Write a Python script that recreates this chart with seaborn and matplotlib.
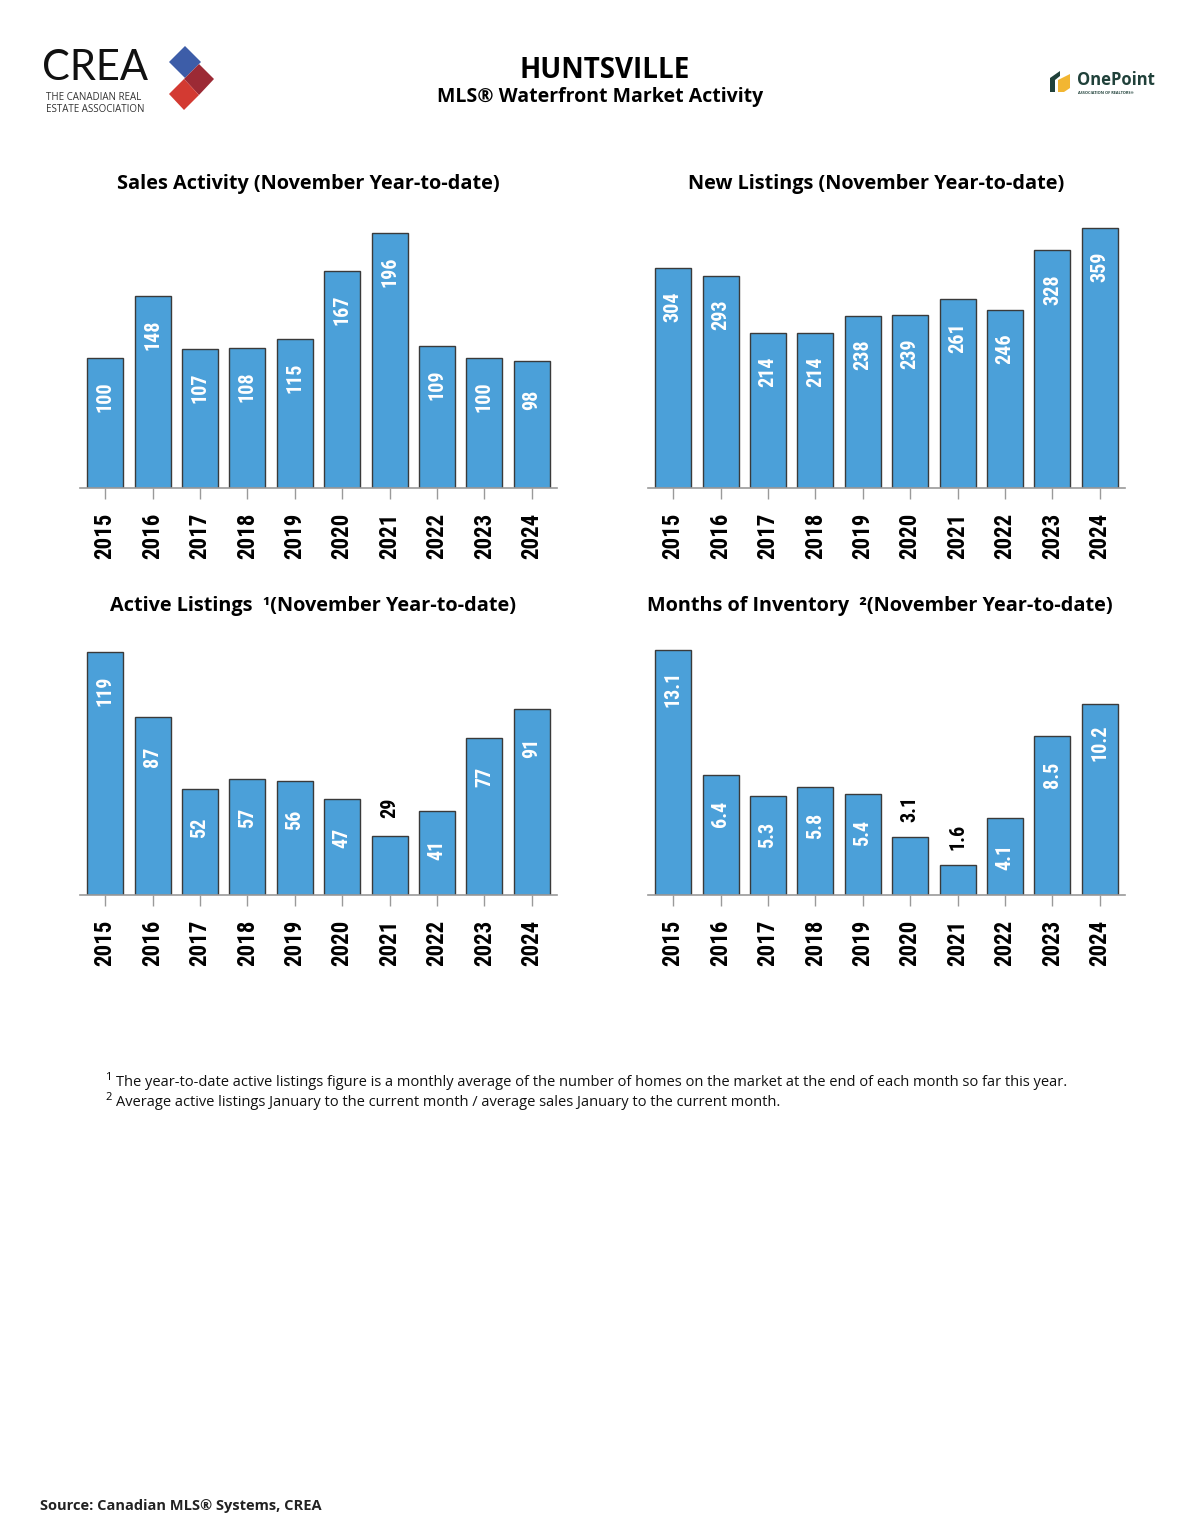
import numpy as np
import pandas as pd
import matplotlib
matplotlib.use('Agg')
import matplotlib.pyplot as plt
import seaborn as sns
from matplotlib.patches import Polygon

# ==========================================
# Data
# ==========================================
years = ['2015', '2016', '2017', '2018', '2019', '2020', '2021', '2022', '2023', '2024']
sales = [100, 148, 107, 108, 115, 167, 196, 109, 100, 98]
new_listings = [304, 293, 214, 214, 238, 239, 261, 246, 328, 359]
active_listings = [119, 87, 52, 57, 56, 47, 29, 41, 77, 91]
months_inventory = [13.1, 6.4, 5.3, 5.8, 5.4, 3.1, 1.6, 4.1, 8.5, 10.2]

titles = [
    'Sales Activity (November Year-to-date)',
    'New Listings (November Year-to-date)',
    'Active Listings  \u00b9(November Year-to-date)',
    'Months of Inventory  \u00b2(November Year-to-date)',
]

BAR = '#4ba0d9'
EDGE = '#3a3a3a'
NARROW = ['Roboto Condensed', 'Roboto', 'DejaVu Sans']

sns.set_theme(style='white')
plt.rcParams['font.family'] = ['Open Sans', 'DejaVu Sans']
plt.rcParams['text.color'] = 'black'

W, H = 1195, 1536
fig = plt.figure(figsize=(W / 100, H / 100), dpi=100)


def fx(x):
    return x / W


def fy(y):
    return 1 - y / H


# panel layout: values, title, number format, ymax, left px, baseline px, title centre x, title y
panels = [
    (sales, titles[0], '{:.0f}', 210, 80, 488, 308, 184),
    (new_listings, titles[1], '{:.0f}', 377, 648, 488, 876, 184),
    (active_listings, titles[2], '{:.0f}', 133.8, 80, 895, 313, 606),
    (months_inventory, titles[3], '{:.1f}', 14.6, 648, 895, 880, 606),
]

ax_w, ax_h = 477, 273

for vals, title, fmt, ymax, left, base, tx, ty in panels:
    ax = fig.add_axes([fx(left), fy(base), ax_w / W, ax_h / H])
    df = pd.DataFrame({'year': years, 'value': vals})
    sns.barplot(data=df, x='year', y='value', color=BAR, saturation=1,
                width=0.76, edgecolor=EDGE, linewidth=1, ax=ax)
    ax.set_xlim(-0.53, len(years) - 0.47)
    ax.set_ylim(0, ymax)
    ax.set_xlabel('')
    ax.set_ylabel('')
    ax.set_yticks([])
    for s in ['top', 'right', 'left']:
        ax.spines[s].set_visible(False)
    ax.spines['bottom'].set_color('#9a9a9a')
    ax.spines['bottom'].set_linewidth(1.2)
    ax.set_xticks(range(len(years)))
    ax.set_xticklabels(years, rotation=90, fontsize=16.5, fontweight='bold',
                       family=NARROW, color='black')
    ax.tick_params(axis='x', bottom=True, length=8, width=1,
                   color='#9a9a9a', pad=10)

    # value labels: inside the bar, or above it when the bar is short
    for i, v in enumerate(vals):
        inside = v / ymax >= 0.25
        ax.annotate(fmt.format(v), (i, v),
                    xytext=(0, -28 if inside else 20), textcoords='offset points',
                    ha='center', va='center', rotation=90,
                    color='white' if inside else 'black',
                    fontsize=14.5, fontweight='bold', family=NARROW)

    fig.text(fx(tx), fy(ty), title, ha='center', va='center',
             fontsize=14.3, fontweight='bold')

# ==========================================
# Header
# ==========================================
fig.text(fx(605), fy(70), 'HUNTSVILLE', ha='center', va='center',
         fontsize=20, fontweight='bold')
fig.text(fx(600), fy(97), 'MLS\u00ae Waterfront Market Activity', ha='center',
         va='center', fontsize=14, fontweight='bold')

# logos drawn on an overlay in pixel coordinates
ov = fig.add_axes([0, 0, 1, 1])
ov.set_xlim(0, W)
ov.set_ylim(H, 0)
ov.axis('off')

ov.text(42, 68, 'CREA', ha='left', va='center', fontsize=30,
        family='Lato', color='#111111')
ov.text(46, 98, 'THE CANADIAN REAL', ha='left', va='center', fontsize=7,
        color='#333333', family='Open Sans')
ov.text(46, 110, 'ESTATE ASSOCIATION', ha='left', va='center', fontsize=7,
        color='#333333', family='Open Sans')
ov.add_patch(Polygon([(185, 46), (201, 62), (185, 78), (169, 62)],
                     closed=True, color='#3d5da8', lw=0))
ov.add_patch(Polygon([(199, 64), (214, 79), (199, 95), (184, 79)],
                     closed=True, color='#9c2a35', lw=0))
ov.add_patch(Polygon([(184, 79), (199, 95), (184, 110), (169, 94)],
                     closed=True, color='#d33a32', lw=0))

ov.add_patch(Polygon([(1050, 78), (1060, 71), (1060, 76), (1055, 80), (1055, 92), (1050, 92)],
                     closed=True, color='#20413a', lw=0))
ov.add_patch(Polygon([(1058, 80), (1070, 74), (1070, 88), (1064, 92), (1058, 92)],
                     closed=True, color='#f2b632', lw=0))
ov.text(1077, 80, 'OnePoint', ha='left', va='center', fontsize=12,
        fontweight='bold', color='#20413a')
ov.text(1078, 93, 'ASSOCIATION OF REALTORS\u00ae', ha='left', va='center',
        fontsize=2.8, fontweight='bold', color='#20413a')

# ==========================================
# Footnotes and source
# ==========================================
ov.text(105, 1078, '1', ha='left', va='center', fontsize=8, family='Open Sans')
ov.text(116, 1082,
        'The year-to-date active listings figure is a monthly average of the number '
        'of homes on the market at the end of each month so far this year.',
        ha='left', va='center', fontsize=10.5, family='Open Sans', color='#111111')
ov.text(105, 1098, '2', ha='left', va='center', fontsize=8, family='Open Sans')
ov.text(116, 1102,
        'Average active listings January to the current month / average sales '
        'January to the current month.',
        ha='left', va='center', fontsize=10.5, family='Open Sans', color='#111111')
ov.text(40, 1506, 'Source: Canadian MLS\u00ae Systems, CREA', ha='left',
        va='center', fontsize=10.5, fontweight='bold', family='Open Sans', color='#222222')

fig.savefig('out.png', dpi=100, facecolor='white')
